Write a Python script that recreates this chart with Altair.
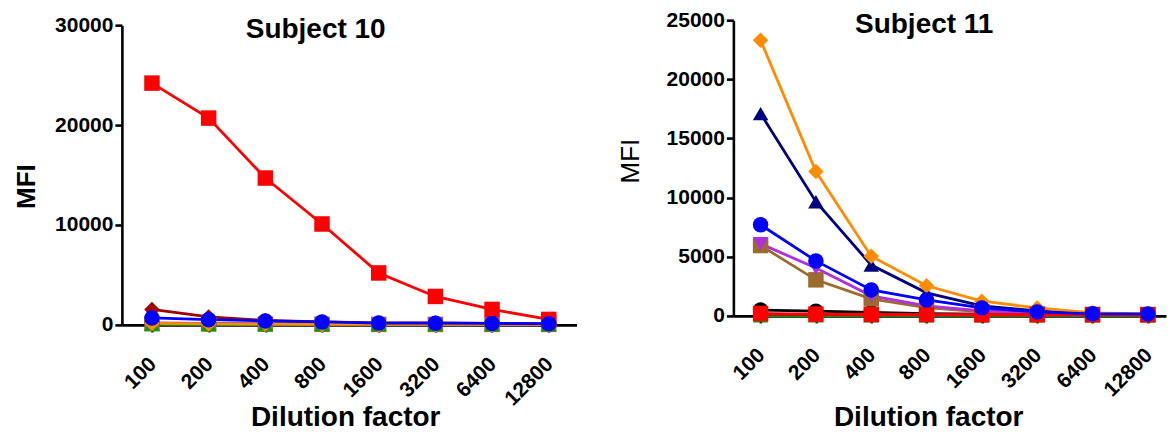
import altair as alt
import pandas as pd

dilutions = ["100", "200", "400", "800", "1600", "3200", "6400", "12800"]

series = ["navy", "black", "brown", "green", "purple", "darkred", "orange", "red", "blue"]
colors = ["#000080", "#000000", "#9C6B30", "#00A000", "#B030E0", "#A00000", "#FF8C00", "#FF0000", "#0000FF"]
shapes = ["triangle-up", "circle", "square", "triangle-up", "triangle-down", "diamond", "diamond", "square", "circle"]

s10 = {
    "navy":    [100, 80, 60, 50, 50, 50, 50, 50],
    "black":   [150, 100, 80, 60, 50, 50, 50, 50],
    "brown":   [120, 100, 80, 60, 50, 50, 50, 50],
    "green":   [50, 40, 30, 30, 30, 30, 30, 30],
    "purple":  [200, 150, 120, 100, 80, 70, 60, 50],
    "darkred": [1550, 800, 450, 300, 200, 200, 150, 100],
    "orange":  [150, 100, 80, 60, 50, 50, 50, 50],
    "red":     [24200, 20700, 14700, 10100, 5200, 2850, 1550, 550],
    "blue":    [700, 520, 400, 300, 180, 170, 150, 120],
}

s11 = {
    "navy":    [17100, 9650, 4300, 1950, 850, 420, 180, 110],
    "black":   [500, 400, 300, 200, 150, 120, 100, 100],
    "brown":   [5950, 3050, 1450, 700, 350, 180, 130, 120],
    "green":   [20, 20, 20, 20, 20, 20, 20, 20],
    "purple":  [6100, 4050, 1700, 850, 420, 250, 150, 110],
    "darkred": [150, 120, 100, 90, 80, 80, 80, 80],
    "orange":  [23300, 12200, 5050, 2550, 1250, 680, 260, 180],
    "red":     [200, 150, 120, 110, 100, 100, 100, 100],
    "blue":    [7700, 4650, 2200, 1350, 680, 340, 180, 170],
}

titles = ["Subject 10", "Subject 11"]

FONT = "Liberation Sans"


def frame(d):
    rows = []
    for si, s in enumerate(series):
        for di, dl in enumerate(dilutions):
            rows.append({"series": s, "order": si, "dilution": dl, "MFI": d[s][di]})
    return pd.DataFrame(rows)


def panel(d, title, ymax, ystep, height, yrange, width, xpad, xalign,
          title_x, title_y, ytitle_weight, ytitle_size, ytitle_x, ytitle_y, xtitle_x, xtitle_y):
    df = frame(d)
    x = alt.X("dilution:O", sort=dilutions,
              scale=alt.Scale(type="point", padding=xpad, align=xalign),
              axis=alt.Axis(title="Dilution factor", labelAngle=-45, labelAlign="right",
                            labelBaseline="top", labelPadding=21, labelOffset=-7,
                            titleX=xtitle_x, titleY=xtitle_y, titleBaseline="alphabetic",
                            titleFontSize=28, titleFontWeight="bold"))
    y = alt.Y("MFI:Q", scale=alt.Scale(domain=[0, ymax], range=yrange, nice=False, zero=True),
              axis=alt.Axis(title="MFI", values=list(range(0, ymax + 1, ystep)), format="d",
                            titleAngle=-90, titleX=ytitle_x, titleY=ytitle_y,
                            titleBaseline="alphabetic", titleAlign="center", labelPadding=2,
                            titleFontSize=ytitle_size, titleFontWeight=ytitle_weight))
    color = alt.Color("series:N", scale=alt.Scale(domain=series, range=colors), legend=None)
    shape = alt.Shape("series:N", scale=alt.Scale(domain=series, range=shapes), legend=None)
    base = alt.Chart(df)
    lines = base.mark_line(strokeWidth=2.8).encode(x=x, y=y, color=color, detail="series:N",
                                                    order=alt.Order("order:Q"))
    pts = base.mark_point(filled=True, size=240, opacity=1).encode(
        x=x, y=y, color=color, shape=shape, order=alt.Order("order:Q"))
    ttl = alt.Chart(pd.DataFrame({"t": [title]})).mark_text(
        font=FONT, fontSize=28, fontWeight="bold", color="black", align="center",
        baseline="alphabetic").encode(x=alt.value(title_x), y=alt.value(title_y), text="t:N")
    return alt.layer(lines, pts, ttl).properties(width=width, height=height)


left = panel(s10, titles[0], 30000, 10000, 305, [305, 5], 455, 0.51, 0.52,
             194, 18, "bold", 26, -87, 166, 223.5, 101)
right = panel(s11, titles[1], 25000, 5000, 296, [296, 0], 433, 0.41, 0.6,
              191, 13, "normal", 26, -95, 140.5, 195, 110)

chart = alt.hconcat(left, right, spacing=157, bounds="flush").resolve_scale(
    x="independent", y="independent"
).configure(
    font=FONT,
    padding={"left": 14, "top": 9, "right": 5, "bottom": 5},
).configure_view(stroke=None).configure_axis(
    grid=False, domainColor="black", domainWidth=2.6, tickColor="black", tickWidth=2.6,
    tickSize=7, labelColor="black", labelFont=FONT, labelFontSize=21, labelFontWeight="bold",
    titleColor="black", titleFont=FONT,
)

chart.save("out.html", embed_options={"renderer": "svg", "actions": False})
